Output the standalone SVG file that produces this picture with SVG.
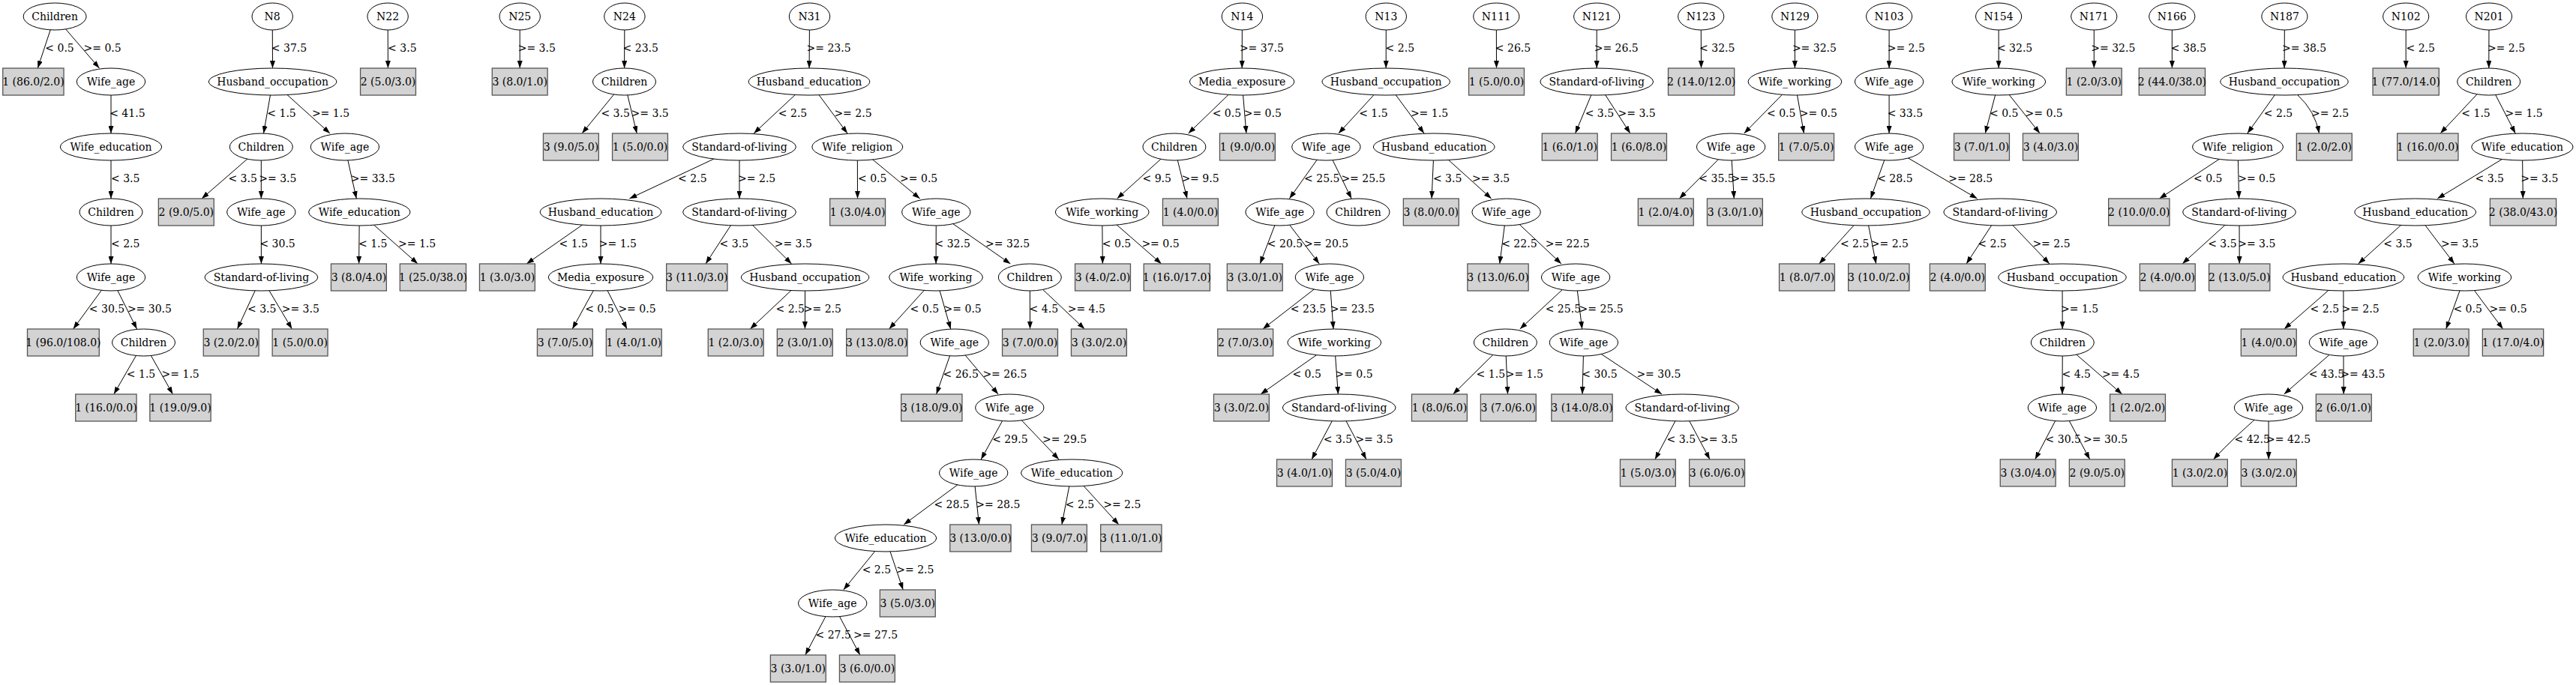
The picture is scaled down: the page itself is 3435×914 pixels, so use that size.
<svg xmlns="http://www.w3.org/2000/svg" width="3435" height="914" viewBox="0 0 3435 914">
<defs>
<style>
.e{fill:#fff;stroke:#000;stroke-width:1}
.b{fill:#d3d3d3;stroke:#555;stroke-width:1.3}
.t{font-family:"DejaVu Serif",serif;font-size:14px;fill:#000;text-anchor:middle}
.l{font-family:"DejaVu Serif",serif;font-size:14px;fill:#000}
.c path{fill:none;stroke:#000;stroke-width:1;marker-end:url(#arr)}
</style>
<marker id="arr" markerWidth="10" markerHeight="7" refX="10" refY="3.5" orient="auto" markerUnits="userSpaceOnUse"><path d="M0,0 L10,3.5 L0,7 z" fill="#000"/></marker>
</defs>
<rect width="3435" height="914" fill="#fff"/>
<g id="connectors" class="c">
<path d="M73.1,22 L50.3,91"/><text class="l" x="60.3" y="69">&lt; 0.5</text>
<path d="M73.1,22 L132.5,91"/><text class="l" x="111.5" y="69">&gt;= 0.5</text>
<path d="M148,109 L148,178"/><text class="l" x="146.2" y="156">&lt; 41.5</text>
<path d="M148,196 L148,265"/><text class="l" x="148" y="243">&lt; 3.5</text>
<path d="M148,283 L148,352"/><text class="l" x="148" y="330">&lt; 2.5</text>
<path d="M148,370 L97.6,439"/><text class="l" x="118.8" y="417">&lt; 30.5</text>
<path d="M148,370 L182.5,439"/><text class="l" x="169.9" y="417">&gt;= 30.5</text>
<path d="M191.5,457 L151.8,526"/><text class="l" x="168.8" y="504">&lt; 1.5</text>
<path d="M191.5,457 L230.4,526"/><text class="l" x="215.6" y="504">&gt;= 1.5</text>
<path d="M363.2,22 L363.5,91"/><text class="l" x="361.8" y="69">&lt; 37.5</text>
<path d="M363.6,109 L351.5,178"/><text class="l" x="356.3" y="156">&lt; 1.5</text>
<path d="M363.6,109 L440,178"/><text class="l" x="415.9" y="156">&gt;= 1.5</text>
<path d="M348.3,196 L269,265"/><text class="l" x="304.4" y="243">&lt; 3.5</text>
<path d="M348.3,196 L348.3,265"/><text class="l" x="345.3" y="243">&gt;= 3.5</text>
<path d="M459.9,196 L475.3,265"/><text class="l" x="467.8" y="243">&gt;= 33.5</text>
<path d="M348.3,283 L348.4,352"/><text class="l" x="346.4" y="330">&lt; 30.5</text>
<path d="M479.3,283 L478.6,352"/><text class="l" x="478" y="330">&lt; 1.5</text>
<path d="M479.3,283 L557.1,352"/><text class="l" x="531" y="330">&gt;= 1.5</text>
<path d="M348.4,370 L316.5,439"/><text class="l" x="330" y="417">&lt; 3.5</text>
<path d="M348.4,370 L389.4,439"/><text class="l" x="375.7" y="417">&gt;= 3.5</text>
<path d="M517.1,22 L517.4,91"/><text class="l" x="517.1" y="69">&lt; 3.5</text>
<path d="M693.2,22 L693.2,91"/><text class="l" x="690.7" y="69">&gt;= 3.5</text>
<path d="M832.9,22 L832.6,91"/><text class="l" x="830.6" y="69">&lt; 23.5</text>
<path d="M832.5,109 L776.1,178"/><text class="l" x="801.4" y="156">&lt; 3.5</text>
<path d="M832.5,109 L849.2,178"/><text class="l" x="841.6" y="156">&gt;= 3.5</text>
<path d="M1079.5,22 L1079.1,91"/><text class="l" x="1075.5" y="69">&gt;= 23.5</text>
<path d="M1079,109 L1005.2,178"/><text class="l" x="1037.8" y="156">&lt; 2.5</text>
<path d="M1079,109 L1130,178"/><text class="l" x="1112.4" y="156">&gt;= 2.5</text>
<path d="M986,196 L839.3,265"/><text class="l" x="904.1" y="243">&lt; 2.5</text>
<path d="M986,196 L986,265"/><text class="l" x="984.1" y="243">&gt;= 2.5</text>
<path d="M1143.3,196 L1143.5,265"/><text class="l" x="1144" y="243">&lt; 0.5</text>
<path d="M1143.3,196 L1226.6,265"/><text class="l" x="1200.1" y="243">&gt;= 0.5</text>
<path d="M801,283 L702.2,352"/><text class="l" x="745.5" y="330">&lt; 1.5</text>
<path d="M801,283 L801,352"/><text class="l" x="798.8" y="330">&gt;= 1.5</text>
<path d="M986,283 L941,352"/><text class="l" x="959.6" y="330">&lt; 3.5</text>
<path d="M986,283 L1055.5,352"/><text class="l" x="1032.7" y="330">&gt;= 3.5</text>
<path d="M1248.3,283 L1248.1,352"/><text class="l" x="1246.5" y="330">&lt; 32.5</text>
<path d="M1248.3,283 L1347.4,352"/><text class="l" x="1314.1" y="330">&gt;= 32.5</text>
<path d="M801,370 L763.2,439"/><text class="l" x="780.2" y="417">&lt; 0.5</text>
<path d="M801,370 L836.1,439"/><text class="l" x="824.4" y="417">&gt;= 0.5</text>
<path d="M1073.6,370 L1000.3,439"/><text class="l" x="1034.5" y="417">&lt; 2.5</text>
<path d="M1073.6,370 L1073.4,439"/><text class="l" x="1071.8" y="417">&gt;= 2.5</text>
<path d="M1248,370 L1185.6,439"/><text class="l" x="1213.6" y="417">&lt; 0.5</text>
<path d="M1248,370 L1267.7,439"/><text class="l" x="1258.6" y="417">&gt;= 0.5</text>
<path d="M1373.3,370 L1373.5,439"/><text class="l" x="1372.6" y="417">&lt; 4.5</text>
<path d="M1373.3,370 L1446.3,439"/><text class="l" x="1423.7" y="417">&gt;= 4.5</text>
<path d="M1272.8,457 L1248.6,526"/><text class="l" x="1257.5" y="504">&lt; 26.5</text>
<path d="M1272.8,457 L1331.1,526"/><text class="l" x="1310.4" y="504">&gt;= 26.5</text>
<path d="M1346.3,544 L1308.2,613"/><text class="l" x="1323.2" y="591">&lt; 29.5</text>
<path d="M1346.3,544 L1412,613"/><text class="l" x="1390.1" y="591">&gt;= 29.5</text>
<path d="M1298.2,631 L1205.2,700"/><text class="l" x="1245.4" y="678">&lt; 28.5</text>
<path d="M1298.2,631 L1305.5,700"/><text class="l" x="1301.3" y="678">&gt;= 28.5</text>
<path d="M1429.2,631 L1415.9,700"/><text class="l" x="1420.8" y="678">&lt; 2.5</text>
<path d="M1429.2,631 L1491.9,700"/><text class="l" x="1471.2" y="678">&gt;= 2.5</text>
<path d="M1181,718 L1124.8,787"/><text class="l" x="1149.7" y="765">&lt; 2.5</text>
<path d="M1181,718 L1204.2,787"/><text class="l" x="1195.3" y="765">&gt;= 2.5</text>
<path d="M1110.2,805 L1073.8,874"/><text class="l" x="1087.5" y="852">&lt; 27.5</text>
<path d="M1110.2,805 L1146.8,874"/><text class="l" x="1138" y="852">&gt;= 27.5</text>
<path d="M1656.4,22 L1656.2,91"/><text class="l" x="1652.9" y="69">&gt;= 37.5</text>
<path d="M1656.1,109 L1584.6,178"/><text class="l" x="1616.7" y="156">&lt; 0.5</text>
<path d="M1656.1,109 L1661.9,178"/><text class="l" x="1658.7" y="156">&gt;= 0.5</text>
<path d="M1565.9,196 L1489.6,265"/><text class="l" x="1523.5" y="243">&lt; 9.5</text>
<path d="M1565.9,196 L1583,265"/><text class="l" x="1575.4" y="243">&gt;= 9.5</text>
<path d="M1469.7,283 L1470.3,352"/><text class="l" x="1469.8" y="330">&lt; 0.5</text>
<path d="M1469.7,283 L1548.7,352"/><text class="l" x="1522.4" y="330">&gt;= 0.5</text>
<path d="M1848.3,22 L1848.2,91"/><text class="l" x="1847.6" y="69">&lt; 2.5</text>
<path d="M1848.2,109 L1784.9,178"/><text class="l" x="1812.2" y="156">&lt; 1.5</text>
<path d="M1848.2,109 L1899,178"/><text class="l" x="1880.9" y="156">&gt;= 1.5</text>
<path d="M1768.4,196 L1719.4,265"/><text class="l" x="1739.1" y="243">&lt; 25.5</text>
<path d="M1768.4,196 L1802.2,265"/><text class="l" x="1788.4" y="243">&gt;= 25.5</text>
<path d="M1912.2,196 L1909.1,265"/><text class="l" x="1910.9" y="243">&lt; 3.5</text>
<path d="M1912.2,196 L1988.7,265"/><text class="l" x="1963.1" y="243">&gt;= 3.5</text>
<path d="M1706.6,283 L1680.2,352"/><text class="l" x="1689.8" y="330">&lt; 20.5</text>
<path d="M1706.6,283 L1759.2,352"/><text class="l" x="1739.1" y="330">&gt;= 20.5</text>
<path d="M2008.6,283 L1999.8,352"/><text class="l" x="2002.2" y="330">&lt; 22.5</text>
<path d="M2008.6,283 L2082,352"/><text class="l" x="2060.7" y="330">&gt;= 22.5</text>
<path d="M1772.9,370 L1683.9,439"/><text class="l" x="1720.8" y="417">&lt; 23.5</text>
<path d="M1772.9,370 L1778,439"/><text class="l" x="1773.8" y="417">&gt;= 23.5</text>
<path d="M2101.1,370 L2026.8,439"/><text class="l" x="2060.7" y="417">&lt; 25.5</text>
<path d="M2101.1,370 L2109.7,439"/><text class="l" x="2105.6" y="417">&gt;= 25.5</text>
<path d="M1779.3,457 L1681,526"/><text class="l" x="1723.4" y="504">&lt; 0.5</text>
<path d="M1779.3,457 L1784.4,526"/><text class="l" x="1780.4" y="504">&gt;= 0.5</text>
<path d="M2007.4,457 L1937.6,526"/><text class="l" x="1968.6" y="504">&lt; 1.5</text>
<path d="M2007.4,457 L2010.5,526"/><text class="l" x="2007.7" y="504">&gt;= 1.5</text>
<path d="M2111.9,457 L2110,526"/><text class="l" x="2109.3" y="504">&lt; 30.5</text>
<path d="M2111.9,457 L2216.1,526"/><text class="l" x="2182.4" y="504">&gt;= 30.5</text>
<path d="M1785.7,544 L1749.1,613"/><text class="l" x="1764.7" y="591">&lt; 3.5</text>
<path d="M1785.7,544 L1821.9,613"/><text class="l" x="1807.4" y="591">&gt;= 3.5</text>
<path d="M2243.3,544 L2206.9,613"/><text class="l" x="2222.6" y="591">&lt; 3.5</text>
<path d="M2243.3,544 L2280,613"/><text class="l" x="2267.1" y="591">&gt;= 3.5</text>
<path d="M1995.3,22 L1995.5,91"/><text class="l" x="1993.8" y="69">&lt; 26.5</text>
<path d="M2129.2,22 L2129.2,91"/><text class="l" x="2125.7" y="69">&gt;= 26.5</text>
<path d="M2129.2,109 L2100.6,178"/><text class="l" x="2113.7" y="156">&lt; 3.5</text>
<path d="M2129.2,109 L2173.9,178"/><text class="l" x="2157.5" y="156">&gt;= 3.5</text>
<path d="M2268.2,22 L2268.5,91"/><text class="l" x="2266.1" y="69">&lt; 32.5</text>
<path d="M2393.4,22 L2393.4,91"/><text class="l" x="2389.9" y="69">&gt;= 32.5</text>
<path d="M2393.4,109 L2325.7,178"/><text class="l" x="2356" y="156">&lt; 0.5</text>
<path d="M2393.4,109 L2405.5,178"/><text class="l" x="2399.8" y="156">&gt;= 0.5</text>
<path d="M2308.1,196 L2239.3,265"/><text class="l" x="2265.3" y="243">&lt; 35.5</text>
<path d="M2308.1,196 L2312.3,265"/><text class="l" x="2308.4" y="243">&gt;= 35.5</text>
<path d="M2519.1,22 L2519.1,91"/><text class="l" x="2516.7" y="69">&gt;= 2.5</text>
<path d="M2519.1,109 L2519.1,178"/><text class="l" x="2516.7" y="156">&lt; 33.5</text>
<path d="M2519.1,196 L2494.4,265"/><text class="l" x="2503.2" y="243">&lt; 28.5</text>
<path d="M2519.1,196 L2636.6,265"/><text class="l" x="2598.2" y="243">&gt;= 28.5</text>
<path d="M2488,283 L2425.7,352"/><text class="l" x="2453.9" y="330">&lt; 2.5</text>
<path d="M2488,283 L2501.7,352"/><text class="l" x="2494.8" y="330">&gt;= 2.5</text>
<path d="M2667.2,283 L2622.1,352"/><text class="l" x="2637.3" y="330">&lt; 2.5</text>
<path d="M2667.2,283 L2732.9,352"/><text class="l" x="2710.4" y="330">&gt;= 2.5</text>
<path d="M2750,370 L2750.2,439"/><text class="l" x="2748" y="417">&gt;= 1.5</text>
<path d="M2750.3,457 L2750,526"/><text class="l" x="2749.5" y="504">&lt; 4.5</text>
<path d="M2750.3,457 L2829.8,526"/><text class="l" x="2802.9" y="504">&gt;= 4.5</text>
<path d="M2749.9,544 L2713.7,613"/><text class="l" x="2727.6" y="591">&lt; 30.5</text>
<path d="M2749.9,544 L2786.7,613"/><text class="l" x="2778" y="591">&gt;= 30.5</text>
<path d="M2665.1,22 L2665.2,91"/><text class="l" x="2662.9" y="69">&lt; 32.5</text>
<path d="M2665.3,109 L2647.2,178"/><text class="l" x="2653" y="156">&lt; 0.5</text>
<path d="M2665.3,109 L2720.1,178"/><text class="l" x="2700.6" y="156">&gt;= 0.5</text>
<path d="M2792.3,22 L2792.3,91"/><text class="l" x="2788.3" y="69">&gt;= 32.5</text>
<path d="M2896.3,22 L2896.4,91"/><text class="l" x="2894.8" y="69">&lt; 38.5</text>
<path d="M3046.4,22 L3046.1,91"/><text class="l" x="3043.1" y="69">&gt;= 38.5</text>
<path d="M3046,109 L2996.8,178"/><text class="l" x="3018.8" y="156">&lt; 2.5</text>
<path d="M3064,127 Q3087,148 3092.5,178"/><text class="l" x="3082" y="156">&gt;= 2.5</text>
<path d="M2984,196 L2879.5,265"/><text class="l" x="2925" y="243">&lt; 0.5</text>
<path d="M2984,196 L2985.6,265"/><text class="l" x="2984.2" y="243">&gt;= 0.5</text>
<path d="M2986,283 L2910.1,352"/><text class="l" x="2944.2" y="330">&lt; 3.5</text>
<path d="M2986,283 L2986.2,352"/><text class="l" x="2984.2" y="330">&gt;= 3.5</text>
<path d="M3208.2,22 L3208.2,91"/><text class="l" x="3208.5" y="69">&lt; 2.5</text>
<path d="M3319,22 L3318.8,91"/><text class="l" x="3316.9" y="69">&gt;= 2.5</text>
<path d="M3318.7,109 L3254.1,178"/><text class="l" x="3282.3" y="156">&lt; 1.5</text>
<path d="M3318.7,109 L3354.2,178"/><text class="l" x="3340.5" y="156">&gt;= 1.5</text>
<path d="M3363.4,196 L3250.2,265"/><text class="l" x="3300.5" y="243">&lt; 3.5</text>
<path d="M3363.4,196 L3364.3,265"/><text class="l" x="3361.2" y="243">&gt;= 3.5</text>
<path d="M3220.7,283 L3144.7,352"/><text class="l" x="3178.3" y="330">&lt; 3.5</text>
<path d="M3220.7,283 L3272.8,352"/><text class="l" x="3255.1" y="330">&gt;= 3.5</text>
<path d="M3124.9,370 L3045.9,439"/><text class="l" x="3080.6" y="417">&lt; 2.5</text>
<path d="M3124.9,370 L3124.9,439"/><text class="l" x="3122.4" y="417">&gt;= 2.5</text>
<path d="M3286.4,370 L3261.7,439"/><text class="l" x="3271.4" y="417">&lt; 0.5</text>
<path d="M3286.4,370 L3337.6,439"/><text class="l" x="3319.4" y="417">&gt;= 0.5</text>
<path d="M3124.9,457 L3045.7,526"/><text class="l" x="3078.7" y="504">&lt; 43.5</text>
<path d="M3124.9,457 L3125.2,526"/><text class="l" x="3121.3" y="504">&gt;= 43.5</text>
<path d="M3025,544 Q2980,582 2951.5,613"/><text class="l" x="2979.5" y="591">&lt; 42.5</text>
<path d="M3025,544 L3025.2,613"/><text class="l" x="3022" y="591">&gt;= 42.5</text>
</g>
<g id="n1"><ellipse class="e" cx="73.1" cy="22" rx="42" ry="18"/><text class="t" x="73.1" y="27">Children</text></g>
<g id="n2"><rect class="b" x="3.75" y="91" width="81.3" height="36"/><text class="t" x="44.4" y="114">1 (86.0/2.0)</text></g>
<g id="n3"><ellipse class="e" cx="148" cy="109" rx="45.7" ry="18"/><text class="t" x="148" y="114">Wife_age</text></g>
<g id="n4"><ellipse class="e" cx="148" cy="196" rx="67.7" ry="18"/><text class="t" x="148" y="201">Wife_education</text></g>
<g id="n5"><ellipse class="e" cx="148" cy="283" rx="42" ry="18"/><text class="t" x="148" y="288">Children</text></g>
<g id="n6"><ellipse class="e" cx="148" cy="370" rx="45.7" ry="18"/><text class="t" x="148" y="375">Wife_age</text></g>
<g id="n7"><rect class="b" x="36.5" y="439" width="95.8" height="36"/><text class="t" x="84.4" y="462">1 (96.0/108.0)</text></g>
<g id="n8"><ellipse class="e" cx="191.5" cy="457" rx="42" ry="18"/><text class="t" x="191.5" y="462">Children</text></g>
<g id="n9"><rect class="b" x="100.75" y="526" width="81.3" height="36"/><text class="t" x="141.4" y="549">1 (16.0/0.0)</text></g>
<g id="n10"><rect class="b" x="199.85" y="526" width="81.3" height="36"/><text class="t" x="240.5" y="549">1 (19.0/9.0)</text></g>
<g id="n11"><ellipse class="e" cx="363.2" cy="22" rx="27.2" ry="18"/><text class="t" x="363.2" y="27">N8</text></g>
<g id="n12"><ellipse class="e" cx="363.6" cy="109" rx="85.2" ry="18"/><text class="t" x="363.6" y="114">Husband_occupation</text></g>
<g id="n13"><ellipse class="e" cx="348.3" cy="196" rx="42" ry="18"/><text class="t" x="348.3" y="201">Children</text></g>
<g id="n14"><ellipse class="e" cx="459.9" cy="196" rx="45.7" ry="18"/><text class="t" x="459.9" y="201">Wife_age</text></g>
<g id="n15"><rect class="b" x="211.35" y="265" width="73.9" height="36"/><text class="t" x="248.3" y="288">2 (9.0/5.0)</text></g>
<g id="n16"><ellipse class="e" cx="348.3" cy="283" rx="45.7" ry="18"/><text class="t" x="348.3" y="288">Wife_age</text></g>
<g id="n17"><ellipse class="e" cx="479.3" cy="283" rx="67.7" ry="18"/><text class="t" x="479.3" y="288">Wife_education</text></g>
<g id="n18"><ellipse class="e" cx="348.4" cy="370" rx="75.4" ry="18"/><text class="t" x="348.4" y="375">Standard-of-living</text></g>
<g id="n19"><rect class="b" x="441.45" y="352" width="73.9" height="36"/><text class="t" x="478.4" y="375">3 (8.0/4.0)</text></g>
<g id="n20"><rect class="b" x="533.3" y="352" width="88.2" height="36"/><text class="t" x="577.4" y="375">1 (25.0/38.0)</text></g>
<g id="n21"><rect class="b" x="271.25" y="439" width="73.9" height="36"/><text class="t" x="308.2" y="462">3 (2.0/2.0)</text></g>
<g id="n22"><rect class="b" x="363.15" y="439" width="73.9" height="36"/><text class="t" x="400.1" y="462">1 (5.0/0.0)</text></g>
<g id="n23"><ellipse class="e" cx="517.1" cy="22" rx="27.2" ry="18"/><text class="t" x="517.1" y="27">N22</text></g>
<g id="n24"><rect class="b" x="480.55" y="91" width="73.9" height="36"/><text class="t" x="517.5" y="114">2 (5.0/3.0)</text></g>
<g id="n25"><ellipse class="e" cx="693.2" cy="22" rx="27.2" ry="18"/><text class="t" x="693.2" y="27">N25</text></g>
<g id="n26"><rect class="b" x="656.25" y="91" width="73.9" height="36"/><text class="t" x="693.2" y="114">3 (8.0/1.0)</text></g>
<g id="n27"><ellipse class="e" cx="832.9" cy="22" rx="27.2" ry="18"/><text class="t" x="832.9" y="27">N24</text></g>
<g id="n28"><ellipse class="e" cx="832.5" cy="109" rx="42" ry="18"/><text class="t" x="832.5" y="114">Children</text></g>
<g id="n29"><rect class="b" x="724.45" y="178" width="73.9" height="36"/><text class="t" x="761.4" y="201">3 (9.0/5.0)</text></g>
<g id="n30"><rect class="b" x="816.55" y="178" width="73.9" height="36"/><text class="t" x="853.5" y="201">1 (5.0/0.0)</text></g>
<g id="n31"><ellipse class="e" cx="1079.5" cy="22" rx="27.2" ry="18"/><text class="t" x="1079.5" y="27">N31</text></g>
<g id="n32"><ellipse class="e" cx="1079" cy="109" rx="80.8" ry="18"/><text class="t" x="1079" y="114">Husband_education</text></g>
<g id="n33"><ellipse class="e" cx="986" cy="196" rx="75.4" ry="18"/><text class="t" x="986" y="201">Standard-of-living</text></g>
<g id="n34"><ellipse class="e" cx="1143.3" cy="196" rx="60.5" ry="18"/><text class="t" x="1143.3" y="201">Wife_religion</text></g>
<g id="n35"><ellipse class="e" cx="801" cy="283" rx="80.8" ry="18"/><text class="t" x="801" y="288">Husband_education</text></g>
<g id="n36"><ellipse class="e" cx="986" cy="283" rx="75.4" ry="18"/><text class="t" x="986" y="288">Standard-of-living</text></g>
<g id="n37"><rect class="b" x="1106.65" y="265" width="73.9" height="36"/><text class="t" x="1143.6" y="288">1 (3.0/4.0)</text></g>
<g id="n38"><ellipse class="e" cx="1248.3" cy="283" rx="45.7" ry="18"/><text class="t" x="1248.3" y="288">Wife_age</text></g>
<g id="n39"><rect class="b" x="639.45" y="352" width="73.9" height="36"/><text class="t" x="676.4" y="375">1 (3.0/3.0)</text></g>
<g id="n40"><ellipse class="e" cx="801" cy="370" rx="69.8" ry="18"/><text class="t" x="801" y="375">Media_exposure</text></g>
<g id="n41"><rect class="b" x="888.65" y="352" width="81.3" height="36"/><text class="t" x="929.3" y="375">3 (11.0/3.0)</text></g>
<g id="n42"><ellipse class="e" cx="1073.6" cy="370" rx="85.2" ry="18"/><text class="t" x="1073.6" y="375">Husband_occupation</text></g>
<g id="n43"><ellipse class="e" cx="1248" cy="370" rx="62.4" ry="18"/><text class="t" x="1248" y="375">Wife_working</text></g>
<g id="n44"><ellipse class="e" cx="1373.3" cy="370" rx="42" ry="18"/><text class="t" x="1373.3" y="375">Children</text></g>
<g id="n45"><rect class="b" x="716.45" y="439" width="73.9" height="36"/><text class="t" x="753.4" y="462">3 (7.0/5.0)</text></g>
<g id="n46"><rect class="b" x="808.35" y="439" width="73.9" height="36"/><text class="t" x="845.3" y="462">1 (4.0/1.0)</text></g>
<g id="n47"><rect class="b" x="944.25" y="439" width="73.9" height="36"/><text class="t" x="981.2" y="462">1 (2.0/3.0)</text></g>
<g id="n48"><rect class="b" x="1036.35" y="439" width="73.9" height="36"/><text class="t" x="1073.3" y="462">2 (3.0/1.0)</text></g>
<g id="n49"><rect class="b" x="1128.65" y="439" width="81.3" height="36"/><text class="t" x="1169.3" y="462">3 (13.0/8.0)</text></g>
<g id="n50"><ellipse class="e" cx="1272.8" cy="457" rx="45.7" ry="18"/><text class="t" x="1272.8" y="462">Wife_age</text></g>
<g id="n51"><rect class="b" x="1336.55" y="439" width="73.9" height="36"/><text class="t" x="1373.5" y="462">3 (7.0/0.0)</text></g>
<g id="n52"><rect class="b" x="1428.45" y="439" width="73.9" height="36"/><text class="t" x="1465.4" y="462">3 (3.0/2.0)</text></g>
<g id="n53"><rect class="b" x="1201.65" y="526" width="81.3" height="36"/><text class="t" x="1242.3" y="549">3 (18.0/9.0)</text></g>
<g id="n54"><ellipse class="e" cx="1346.3" cy="544" rx="45.7" ry="18"/><text class="t" x="1346.3" y="549">Wife_age</text></g>
<g id="n55"><ellipse class="e" cx="1298.2" cy="631" rx="45.7" ry="18"/><text class="t" x="1298.2" y="636">Wife_age</text></g>
<g id="n56"><ellipse class="e" cx="1429.2" cy="631" rx="67.7" ry="18"/><text class="t" x="1429.2" y="636">Wife_education</text></g>
<g id="n57"><ellipse class="e" cx="1181" cy="718" rx="67.7" ry="18"/><text class="t" x="1181" y="723">Wife_education</text></g>
<g id="n58"><rect class="b" x="1266.75" y="700" width="81.3" height="36"/><text class="t" x="1307.4" y="723">3 (13.0/0.0)</text></g>
<g id="n59"><rect class="b" x="1375.45" y="700" width="73.9" height="36"/><text class="t" x="1412.4" y="723">3 (9.0/7.0)</text></g>
<g id="n60"><rect class="b" x="1467.65" y="700" width="81.3" height="36"/><text class="t" x="1508.3" y="723">3 (11.0/1.0)</text></g>
<g id="n61"><ellipse class="e" cx="1110.2" cy="805" rx="45.7" ry="18"/><text class="t" x="1110.2" y="810">Wife_age</text></g>
<g id="n62"><rect class="b" x="1173.35" y="787" width="73.9" height="36"/><text class="t" x="1210.3" y="810">3 (5.0/3.0)</text></g>
<g id="n63"><rect class="b" x="1027.35" y="874" width="73.9" height="36"/><text class="t" x="1064.3" y="897">3 (3.0/1.0)</text></g>
<g id="n64"><rect class="b" x="1119.45" y="874" width="73.9" height="36"/><text class="t" x="1156.4" y="897">3 (6.0/0.0)</text></g>
<g id="n65"><ellipse class="e" cx="1656.4" cy="22" rx="27.2" ry="18"/><text class="t" x="1656.4" y="27">N14</text></g>
<g id="n66"><ellipse class="e" cx="1656.1" cy="109" rx="69.8" ry="18"/><text class="t" x="1656.1" y="114">Media_exposure</text></g>
<g id="n67"><ellipse class="e" cx="1565.9" cy="196" rx="42" ry="18"/><text class="t" x="1565.9" y="201">Children</text></g>
<g id="n68"><rect class="b" x="1626.45" y="178" width="73.9" height="36"/><text class="t" x="1663.4" y="201">1 (9.0/0.0)</text></g>
<g id="n69"><ellipse class="e" cx="1469.7" cy="283" rx="62.4" ry="18"/><text class="t" x="1469.7" y="288">Wife_working</text></g>
<g id="n70"><rect class="b" x="1550.45" y="265" width="73.9" height="36"/><text class="t" x="1587.4" y="288">1 (4.0/0.0)</text></g>
<g id="n71"><rect class="b" x="1433.55" y="352" width="73.9" height="36"/><text class="t" x="1470.5" y="375">3 (4.0/2.0)</text></g>
<g id="n72"><rect class="b" x="1525.2" y="352" width="88.2" height="36"/><text class="t" x="1569.3" y="375">1 (16.0/17.0)</text></g>
<g id="n73"><ellipse class="e" cx="1848.3" cy="22" rx="27.2" ry="18"/><text class="t" x="1848.3" y="27">N13</text></g>
<g id="n74"><ellipse class="e" cx="1848.2" cy="109" rx="85.2" ry="18"/><text class="t" x="1848.2" y="114">Husband_occupation</text></g>
<g id="n75"><ellipse class="e" cx="1768.4" cy="196" rx="45.7" ry="18"/><text class="t" x="1768.4" y="201">Wife_age</text></g>
<g id="n76"><ellipse class="e" cx="1912.2" cy="196" rx="80.8" ry="18"/><text class="t" x="1912.2" y="201">Husband_education</text></g>
<g id="n77"><ellipse class="e" cx="1706.6" cy="283" rx="45.7" ry="18"/><text class="t" x="1706.6" y="288">Wife_age</text></g>
<g id="n78"><ellipse class="e" cx="1811" cy="283" rx="42" ry="18"/><text class="t" x="1811" y="288">Children</text></g>
<g id="n79"><rect class="b" x="1871.35" y="265" width="73.9" height="36"/><text class="t" x="1908.3" y="288">3 (8.0/0.0)</text></g>
<g id="n80"><ellipse class="e" cx="2008.6" cy="283" rx="45.7" ry="18"/><text class="t" x="2008.6" y="288">Wife_age</text></g>
<g id="n81"><rect class="b" x="1636.35" y="352" width="73.9" height="36"/><text class="t" x="1673.3" y="375">3 (3.0/1.0)</text></g>
<g id="n82"><ellipse class="e" cx="1772.9" cy="370" rx="45.7" ry="18"/><text class="t" x="1772.9" y="375">Wife_age</text></g>
<g id="n83"><rect class="b" x="1956.85" y="352" width="81.3" height="36"/><text class="t" x="1997.5" y="375">3 (13.0/6.0)</text></g>
<g id="n84"><ellipse class="e" cx="2101.1" cy="370" rx="45.7" ry="18"/><text class="t" x="2101.1" y="375">Wife_age</text></g>
<g id="n85"><rect class="b" x="1623.75" y="439" width="73.9" height="36"/><text class="t" x="1660.7" y="462">2 (7.0/3.0)</text></g>
<g id="n86"><ellipse class="e" cx="1779.3" cy="457" rx="62.4" ry="18"/><text class="t" x="1779.3" y="462">Wife_working</text></g>
<g id="n87"><ellipse class="e" cx="2007.4" cy="457" rx="42" ry="18"/><text class="t" x="2007.4" y="462">Children</text></g>
<g id="n88"><ellipse class="e" cx="2111.9" cy="457" rx="45.7" ry="18"/><text class="t" x="2111.9" y="462">Wife_age</text></g>
<g id="n89"><rect class="b" x="1618.45" y="526" width="73.9" height="36"/><text class="t" x="1655.4" y="549">3 (3.0/2.0)</text></g>
<g id="n90"><ellipse class="e" cx="1785.7" cy="544" rx="75.4" ry="18"/><text class="t" x="1785.7" y="549">Standard-of-living</text></g>
<g id="n91"><rect class="b" x="1882.45" y="526" width="73.9" height="36"/><text class="t" x="1919.4" y="549">1 (8.0/6.0)</text></g>
<g id="n92"><rect class="b" x="1974.35" y="526" width="73.9" height="36"/><text class="t" x="2011.3" y="549">3 (7.0/6.0)</text></g>
<g id="n93"><rect class="b" x="2068.85" y="526" width="81.3" height="36"/><text class="t" x="2109.5" y="549">3 (14.0/8.0)</text></g>
<g id="n94"><ellipse class="e" cx="2243.3" cy="544" rx="75.4" ry="18"/><text class="t" x="2243.3" y="549">Standard-of-living</text></g>
<g id="n95"><rect class="b" x="1702.55" y="613" width="73.9" height="36"/><text class="t" x="1739.5" y="636">3 (4.0/1.0)</text></g>
<g id="n96"><rect class="b" x="1794.45" y="613" width="73.9" height="36"/><text class="t" x="1831.4" y="636">3 (5.0/4.0)</text></g>
<g id="n97"><rect class="b" x="2160.45" y="613" width="73.9" height="36"/><text class="t" x="2197.4" y="636">1 (5.0/3.0)</text></g>
<g id="n98"><rect class="b" x="2252.65" y="613" width="73.9" height="36"/><text class="t" x="2289.6" y="636">3 (6.0/6.0)</text></g>
<g id="n99"><ellipse class="e" cx="1995.3" cy="22" rx="30.6" ry="18"/><text class="t" x="1995.3" y="27">N111</text></g>
<g id="n100"><rect class="b" x="1958.55" y="91" width="73.9" height="36"/><text class="t" x="1995.5" y="114">1 (5.0/0.0)</text></g>
<g id="n101"><ellipse class="e" cx="2129.2" cy="22" rx="30.6" ry="18"/><text class="t" x="2129.2" y="27">N121</text></g>
<g id="n102"><ellipse class="e" cx="2129.2" cy="109" rx="75.4" ry="18"/><text class="t" x="2129.2" y="114">Standard-of-living</text></g>
<g id="n103"><rect class="b" x="2056.25" y="178" width="73.9" height="36"/><text class="t" x="2093.2" y="201">1 (6.0/1.0)</text></g>
<g id="n104"><rect class="b" x="2148.55" y="178" width="73.9" height="36"/><text class="t" x="2185.5" y="201">1 (6.0/8.0)</text></g>
<g id="n105"><ellipse class="e" cx="2268.2" cy="22" rx="30.6" ry="18"/><text class="t" x="2268.2" y="27">N123</text></g>
<g id="n106"><rect class="b" x="2224.5" y="91" width="88.2" height="36"/><text class="t" x="2268.6" y="114">2 (14.0/12.0)</text></g>
<g id="n107"><ellipse class="e" cx="2393.4" cy="22" rx="30.6" ry="18"/><text class="t" x="2393.4" y="27">N129</text></g>
<g id="n108"><ellipse class="e" cx="2393.4" cy="109" rx="62.4" ry="18"/><text class="t" x="2393.4" y="114">Wife_working</text></g>
<g id="n109"><ellipse class="e" cx="2308.1" cy="196" rx="45.7" ry="18"/><text class="t" x="2308.1" y="201">Wife_age</text></g>
<g id="n110"><rect class="b" x="2371.65" y="178" width="73.9" height="36"/><text class="t" x="2408.6" y="201">1 (7.0/5.0)</text></g>
<g id="n111"><rect class="b" x="2184.35" y="265" width="73.9" height="36"/><text class="t" x="2221.3" y="288">1 (2.0/4.0)</text></g>
<g id="n112"><rect class="b" x="2276.45" y="265" width="73.9" height="36"/><text class="t" x="2313.4" y="288">3 (3.0/1.0)</text></g>
<g id="n113"><ellipse class="e" cx="2519.1" cy="22" rx="30.6" ry="18"/><text class="t" x="2519.1" y="27">N103</text></g>
<g id="n114"><ellipse class="e" cx="2519.1" cy="109" rx="45.7" ry="18"/><text class="t" x="2519.1" y="114">Wife_age</text></g>
<g id="n115"><ellipse class="e" cx="2519.1" cy="196" rx="45.7" ry="18"/><text class="t" x="2519.1" y="201">Wife_age</text></g>
<g id="n116"><ellipse class="e" cx="2488" cy="283" rx="85.2" ry="18"/><text class="t" x="2488" y="288">Husband_occupation</text></g>
<g id="n117"><ellipse class="e" cx="2667.2" cy="283" rx="75.4" ry="18"/><text class="t" x="2667.2" y="288">Standard-of-living</text></g>
<g id="n118"><rect class="b" x="2372.55" y="352" width="73.9" height="36"/><text class="t" x="2409.5" y="375">1 (8.0/7.0)</text></g>
<g id="n119"><rect class="b" x="2464.65" y="352" width="81.3" height="36"/><text class="t" x="2505.3" y="375">3 (10.0/2.0)</text></g>
<g id="n120"><rect class="b" x="2573.35" y="352" width="73.9" height="36"/><text class="t" x="2610.3" y="375">2 (4.0/0.0)</text></g>
<g id="n121"><ellipse class="e" cx="2750" cy="370" rx="85.2" ry="18"/><text class="t" x="2750" y="375">Husband_occupation</text></g>
<g id="n122"><ellipse class="e" cx="2750.3" cy="457" rx="42" ry="18"/><text class="t" x="2750.3" y="462">Children</text></g>
<g id="n123"><ellipse class="e" cx="2749.9" cy="544" rx="45.7" ry="18"/><text class="t" x="2749.9" y="549">Wife_age</text></g>
<g id="n124"><rect class="b" x="2813.55" y="526" width="73.9" height="36"/><text class="t" x="2850.5" y="549">1 (2.0/2.0)</text></g>
<g id="n125"><rect class="b" x="2667.25" y="613" width="73.9" height="36"/><text class="t" x="2704.2" y="636">3 (3.0/4.0)</text></g>
<g id="n126"><rect class="b" x="2759.35" y="613" width="73.9" height="36"/><text class="t" x="2796.3" y="636">2 (9.0/5.0)</text></g>
<g id="n127"><ellipse class="e" cx="2665.1" cy="22" rx="30.6" ry="18"/><text class="t" x="2665.1" y="27">N154</text></g>
<g id="n128"><ellipse class="e" cx="2665.3" cy="109" rx="62.4" ry="18"/><text class="t" x="2665.3" y="114">Wife_working</text></g>
<g id="n129"><rect class="b" x="2605.55" y="178" width="73.9" height="36"/><text class="t" x="2642.5" y="201">3 (7.0/1.0)</text></g>
<g id="n130"><rect class="b" x="2697.45" y="178" width="73.9" height="36"/><text class="t" x="2734.4" y="201">3 (4.0/3.0)</text></g>
<g id="n131"><ellipse class="e" cx="2792.3" cy="22" rx="30.6" ry="18"/><text class="t" x="2792.3" y="27">N171</text></g>
<g id="n132"><rect class="b" x="2755.35" y="91" width="73.9" height="36"/><text class="t" x="2792.3" y="114">1 (2.0/3.0)</text></g>
<g id="n133"><ellipse class="e" cx="2896.3" cy="22" rx="30.6" ry="18"/><text class="t" x="2896.3" y="27">N166</text></g>
<g id="n134"><rect class="b" x="2852.3" y="91" width="88.2" height="36"/><text class="t" x="2896.4" y="114">2 (44.0/38.0)</text></g>
<g id="n135"><ellipse class="e" cx="3046.4" cy="22" rx="30.6" ry="18"/><text class="t" x="3046.4" y="27">N187</text></g>
<g id="n136"><ellipse class="e" cx="3046" cy="109" rx="85.2" ry="18"/><text class="t" x="3046" y="114">Husband_occupation</text></g>
<g id="n137"><ellipse class="e" cx="2984" cy="196" rx="60.5" ry="18"/><text class="t" x="2984" y="201">Wife_religion</text></g>
<g id="n138"><rect class="b" x="3062.35" y="178" width="73.9" height="36"/><text class="t" x="3099.3" y="201">1 (2.0/2.0)</text></g>
<g id="n139"><rect class="b" x="2811.65" y="265" width="81.3" height="36"/><text class="t" x="2852.3" y="288">2 (10.0/0.0)</text></g>
<g id="n140"><ellipse class="e" cx="2986" cy="283" rx="75.4" ry="18"/><text class="t" x="2986" y="288">Standard-of-living</text></g>
<g id="n141"><rect class="b" x="2853.35" y="352" width="73.9" height="36"/><text class="t" x="2890.3" y="375">2 (4.0/0.0)</text></g>
<g id="n142"><rect class="b" x="2945.55" y="352" width="81.3" height="36"/><text class="t" x="2986.2" y="375">2 (13.0/5.0)</text></g>
<g id="n143"><ellipse class="e" cx="3208.2" cy="22" rx="30.6" ry="18"/><text class="t" x="3208.2" y="27">N102</text></g>
<g id="n144"><rect class="b" x="3164.1" y="91" width="88.2" height="36"/><text class="t" x="3208.2" y="114">1 (77.0/14.0)</text></g>
<g id="n145"><ellipse class="e" cx="3319" cy="22" rx="30.6" ry="18"/><text class="t" x="3319" y="27">N201</text></g>
<g id="n146"><ellipse class="e" cx="3318.7" cy="109" rx="42" ry="18"/><text class="t" x="3318.7" y="114">Children</text></g>
<g id="n147"><rect class="b" x="3196.65" y="178" width="81.3" height="36"/><text class="t" x="3237.3" y="201">1 (16.0/0.0)</text></g>
<g id="n148"><ellipse class="e" cx="3363.4" cy="196" rx="67.7" ry="18"/><text class="t" x="3363.4" y="201">Wife_education</text></g>
<g id="n149"><ellipse class="e" cx="3220.7" cy="283" rx="80.8" ry="18"/><text class="t" x="3220.7" y="288">Husband_education</text></g>
<g id="n150"><rect class="b" x="3320.4" y="265" width="88.2" height="36"/><text class="t" x="3364.5" y="288">2 (38.0/43.0)</text></g>
<g id="n151"><ellipse class="e" cx="3124.9" cy="370" rx="80.8" ry="18"/><text class="t" x="3124.9" y="375">Husband_education</text></g>
<g id="n152"><ellipse class="e" cx="3286.4" cy="370" rx="62.4" ry="18"/><text class="t" x="3286.4" y="375">Wife_working</text></g>
<g id="n153"><rect class="b" x="2988.35" y="439" width="73.9" height="36"/><text class="t" x="3025.3" y="462">1 (4.0/0.0)</text></g>
<g id="n154"><ellipse class="e" cx="3124.9" cy="457" rx="45.7" ry="18"/><text class="t" x="3124.9" y="462">Wife_age</text></g>
<g id="n155"><rect class="b" x="3218.25" y="439" width="73.9" height="36"/><text class="t" x="3255.2" y="462">1 (2.0/3.0)</text></g>
<g id="n156"><rect class="b" x="3310.35" y="439" width="81.3" height="36"/><text class="t" x="3351" y="462">1 (17.0/4.0)</text></g>
<g id="n157"><ellipse class="e" cx="3025" cy="544" rx="45.7" ry="18"/><text class="t" x="3025" y="549">Wife_age</text></g>
<g id="n158"><rect class="b" x="3088.35" y="526" width="73.9" height="36"/><text class="t" x="3125.3" y="549">2 (6.0/1.0)</text></g>
<g id="n159"><rect class="b" x="2896.45" y="613" width="73.9" height="36"/><text class="t" x="2933.4" y="636">1 (3.0/2.0)</text></g>
<g id="n160"><rect class="b" x="2988.35" y="613" width="73.9" height="36"/><text class="t" x="3025.3" y="636">3 (3.0/2.0)</text></g>
</svg>
